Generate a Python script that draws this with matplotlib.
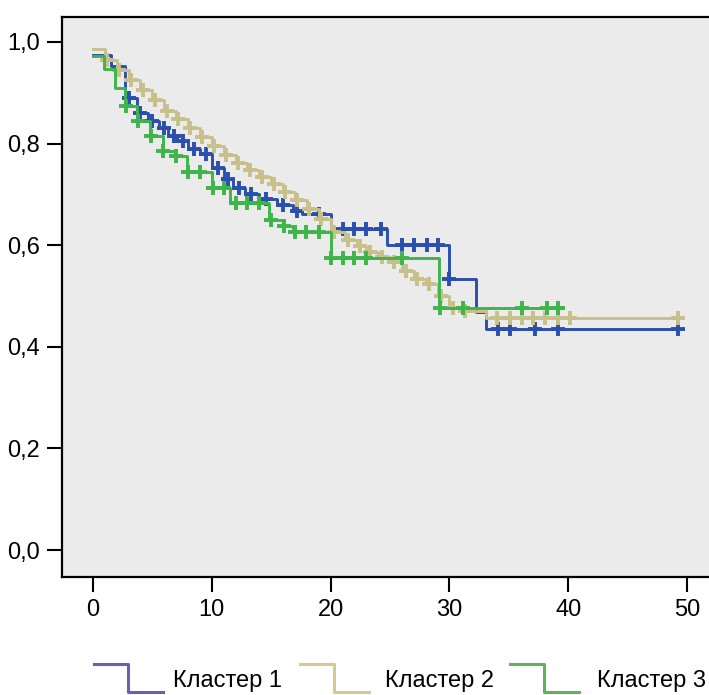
import matplotlib
matplotlib.use("Agg")
import matplotlib.pyplot as plt
from matplotlib.lines import Line2D
import numpy as np

plt.rcParams['font.family'] = ['Liberation Sans Narrow', 'Liberation Sans', 'DejaVu Sans']

# Кластер 1 (blue)
t1 = [0, 1.5, 2.7, 3.7, 4.6, 5.6, 6.3, 7.1, 8.0, 9.0, 10.0, 11.0, 11.8, 12.8, 14.0,
      15.5, 16.8, 17.6, 20.0, 24.7, 30.0, 32.2, 33.1, 49.2]
s1 = [0.975, 0.953, 0.89, 0.86, 0.845, 0.83, 0.815, 0.805, 0.79, 0.78, 0.752, 0.73,
      0.713, 0.70, 0.69, 0.68, 0.668, 0.662, 0.632, 0.60, 0.534, 0.468, 0.436, 0.436]
c1 = [3.0, 4.0, 5.0, 6.0, 6.8, 7.6, 8.5, 9.5, 10.5, 11.4, 12.3, 13.3, 14.6, 16.0, 17.2,
      19.0, 21.0, 22.0, 23.0, 24.2, 26.0, 27.0, 28.1, 29.0, 30.0, 34.1, 35.1, 37.2,
      39.1, 49.2]

# Кластер 2 (khaki)
t2 = [0, 1, 2, 3, 4, 5, 6, 7, 8, 9, 10, 11, 12, 13, 14, 15, 16, 17, 18,
      19, 20.0, 21.2, 22.2, 23.0, 24.0, 25.0, 26.0, 27.0, 28.0, 29.0, 30.0, 31.0,
      33.1, 49.2]
s2 = [0.986, 0.965, 0.945, 0.925, 0.905, 0.885, 0.865, 0.848, 0.83, 0.813, 0.795, 0.778,
      0.762, 0.747, 0.735, 0.72, 0.705, 0.688, 0.672, 0.652, 0.625, 0.61, 0.598, 0.587,
      0.577, 0.566, 0.55, 0.534, 0.524, 0.50, 0.477, 0.47, 0.456, 0.456]
c2 = [1.2, 2.2, 3.2, 4.2, 5.2, 6.2, 7.2, 8.2, 9.2, 10.2, 11.2, 12.2, 13.2, 14.2, 15.2,
      16.2, 17.2, 18.2, 19.2, 20.3, 21.5, 22.5, 23.3, 24.3, 25.3, 26.3, 27.3, 28.3,
      29.3, 30.3, 31.3, 34.0, 35.1, 36.1, 37.0, 38.0, 39.1, 40.1, 49.2]

# Кластер 3 (green)
t3 = [0, 0.9, 1.9, 2.7, 3.7, 4.8, 5.9, 6.9, 7.9, 10.0, 11.5, 14.8, 16.0, 16.8, 20.0,
      29.1, 39.3]
s3 = [0.972, 0.947, 0.91, 0.874, 0.845, 0.815, 0.786, 0.776, 0.743, 0.713, 0.682, 0.65,
      0.638, 0.625, 0.574, 0.477, 0.477]
c3 = [2.8, 3.8, 4.9, 5.9, 7.0, 8.0, 9.0, 10.1, 11.0, 12.0, 13.0, 14.0, 15.0, 16.1, 17.0,
      17.9, 19.0, 20.0, 21.0, 22.0, 23.0, 26.0, 29.2, 31.1, 36.1, 38.2, 39.1]

labels = ["Кластер 1", "Кластер 2", "Кластер 3"]
line_colors = ["#2b4fae", "#c8c08a", "#3db54a"]
legend_colors = ["#6b5fb5", "#d4c98f", "#5db55a"]

W, H = 709, 695
fig = plt.figure(figsize=(W / 100, H / 100), dpi=100)
ax = fig.add_axes([62 / W, (H - 577) / H, (711 - 62) / W, (577 - 17) / H])
ax.set_facecolor("#ebebeb")


def surv_at(times, surv, c):
    idx = np.searchsorted(times, c, side="right") - 1
    return np.array(surv)[idx]


curves = [(t2, s2, c2, 1), (t3, s3, c3, 2), (t1, s1, c1, 0)]
for t, s, c, k in curves:
    ax.step(t, s, where="post", color=line_colors[k], lw=2.1, zorder=2 + k)
    ax.plot(c, surv_at(t, s, c), ls="none", marker="+", ms=10, mew=2.8,
            color=line_colors[k], zorder=2 + k)

ax.set_xlim(-2.6, 52.0)
ax.set_ylim(-0.053, 1.049)
ax.set_xticks([0, 10, 20, 30, 40, 50])
ax.set_yticks([0.0, 0.2, 0.4, 0.6, 0.8, 1.0])
ax.set_yticklabels(["0,0", "0,2", "0,4", "0,6", "0,8", "1,0"])
ax.tick_params(direction="out", length=11, width=1.5, labelsize=17, pad=5)
for sp in ax.spines.values():
    sp.set_linewidth(1.6)

# legend glyphs
px = lambda x: x / W
py = lambda y: (H - y) / H
starts = [(94, 173), (300, 385), (510, 597)]
for (x0, xt), col, lab in zip(starts, legend_colors, labels):
    xs = [x0, x0 + 34, x0 + 34, x0 + 69]
    ys = [664, 664, 692, 692]
    fig.add_artist(Line2D([px(v) for v in xs], [py(v) for v in ys],
                          color=col, lw=2.2, transform=fig.transFigure))
    fig.text(px(xt), py(681), lab, fontsize=17, va="center", ha="left")

fig.savefig("out.png", dpi=100)
